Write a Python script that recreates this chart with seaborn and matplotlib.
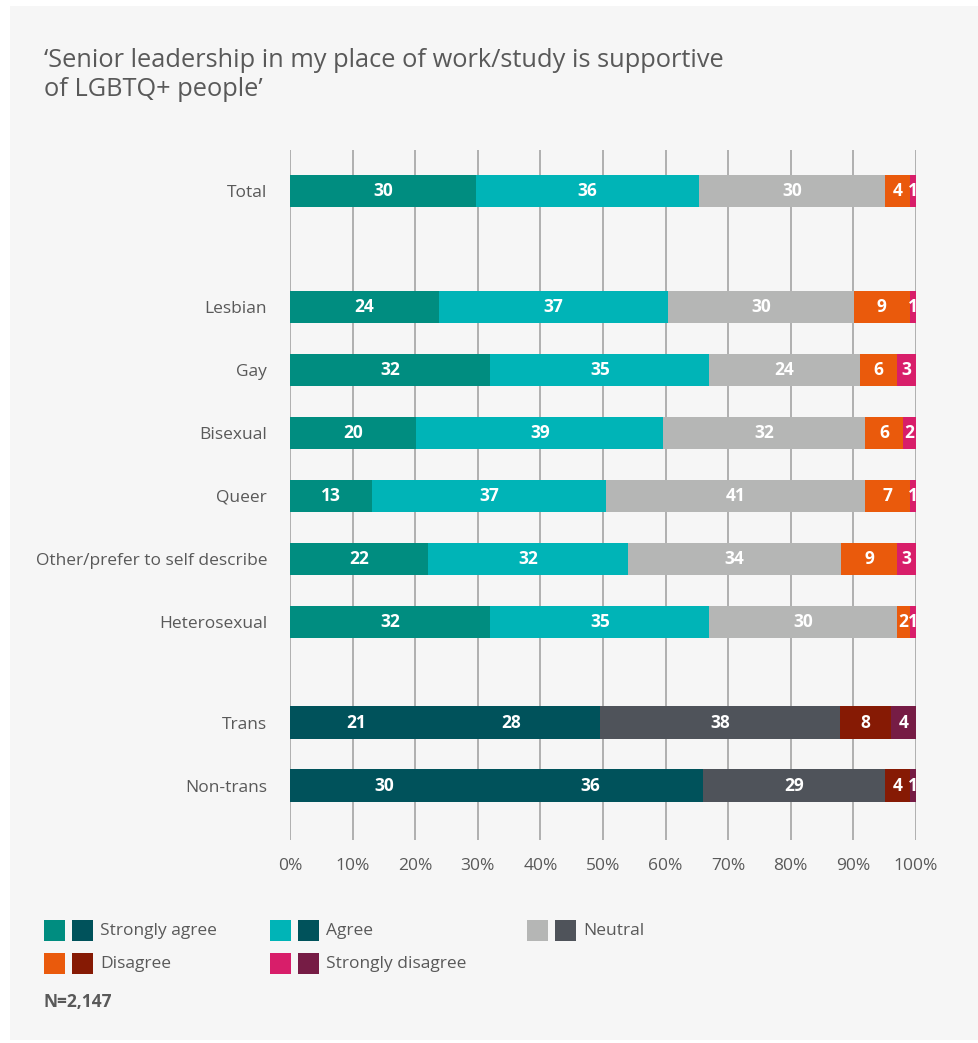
import numpy as np
import pandas as pd
import seaborn as sns
import matplotlib.pyplot as plt
from matplotlib.patches import Rectangle

# ---- data -------------------------------------------------------------
groups = ["Total", "Lesbian", "Gay", "Bisexual", "Queer",
          "Other/prefer to self describe", "Heterosexual", "Trans", "Non-trans"]
strongly_agree = [30, 24, 32, 20, 13, 22, 32, 21, 30]
agree = [36, 37, 35, 39, 37, 32, 35, 28, 36]
neutral = [30, 30, 24, 32, 41, 34, 30, 38, 29]
disagree = [4, 9, 6, 6, 7, 9, 2, 8, 4]
strongly_disagree = [1, 1, 3, 2, 1, 3, 1, 4, 1]
responses = ["Strongly agree", "Agree", "Neutral", "Disagree", "Strongly disagree"]
x_ticks = [0, 10, 20, 30, 40, 50, 60, 70, 80, 90, 100]
sample_note = "N=2,147"
title = "\u2018Senior leadership in my place of work/study is supportive\nof LGBTQ+ people\u2019"

# colours: sexual-orientation rows vs gender-identity rows
palette_main = ["#008d80", "#00b4b7", "#b5b6b5", "#ea5a0c", "#d81e6a"]
palette_gender = ["#00525b", "#00525b", "#4f535a", "#861a04", "#761c45"]
gender_rows = ["Trans", "Non-trans"]

TEXT = "#595959"
BG = "#f6f6f6"

# ---- table ------------------------------------------------------------
values = np.array([strongly_agree, agree, neutral, disagree, strongly_disagree], dtype=float).T
shares = values / values.sum(axis=1, keepdims=True) * 100
cum = np.cumsum(shares, axis=1)

# row positions: three blocks separated by extra space
blocks = [["Total"],
          ["Lesbian", "Gay", "Bisexual", "Queer", "Other/prefer to self describe", "Heterosexual"],
          ["Trans", "Non-trans"]]
block_gaps = [0.0, 0.84, 0.60]
pos = {}
y = 0.0
for gap, block in zip(block_gaps, blocks):
    y += gap
    for g in block:
        pos[g] = y
        y += 1.0

df = pd.DataFrame({"group": groups})
df["pos"] = df["group"].map(pos)
df["set"] = np.where(df["group"].isin(gender_rows), "gender", "main")
for k in range(5):
    df[f"cum{k}"] = cum[:, k]

# ---- figure -----------------------------------------------------------
W, H = 979, 1043
fig = plt.figure(figsize=(W / 100, H / 100), dpi=100)
fig.patch.set_facecolor("white")
fig.add_artist(Rectangle((10 / W, 1 - 1040 / H), (W - 10) / W, (1040 - 6) / H,
                         transform=fig.transFigure, facecolor=BG, edgecolor="none", zorder=-10))

sns.set_style("white")
plt.rcParams["font.family"] = ["Open Sans", "DejaVu Sans"]

ax = fig.add_axes([290 / W, 1 - 840 / H, (916 - 290) / W, (840 - 150) / H])
ax.set_facecolor("none")

# stacked bars: draw cumulative totals from the widest layer down
for k in reversed(range(5)):
    sns.barplot(data=df, x=f"cum{k}", y="pos", hue="set",
                palette={"main": palette_main[k], "gender": palette_gender[k]},
                orient="h", native_scale=True, dodge=False, width=0.52,
                saturation=1, linewidth=0, legend=False, ax=ax, zorder=3)

# segment value labels
for i, g in enumerate(groups):
    left = 0.0
    for k in range(5):
        w = shares[i, k]
        ax.text(left + w / 2, df.loc[i, "pos"], f"{int(values[i, k])}",
                ha="center", va="center", color="white", fontsize=12.5,
                fontweight="bold", zorder=5)
        left += w

ax.set_xlim(0, 100)
ax.set_ylim(10.30, -0.65)
ax.set_xticks(x_ticks)
ax.set_xticklabels([f"{t}%" for t in x_ticks], color=TEXT, fontsize=12.5)
ax.set_yticks([pos[g] for g in groups])
ax.set_yticklabels(groups, color=TEXT, fontsize=12.5)
ax.tick_params(axis="x", length=0, pad=13)
ax.tick_params(axis="y", length=0, pad=16.5)
ax.set_xlabel("")
ax.set_ylabel("")
for s in ax.spines.values():
    s.set_visible(False)
for t in x_ticks:
    ax.axvline(t, color="#9c9c9c", lw=1.1, zorder=1)

# title
fig.text(44 / W, 1 - 48 / H, title, ha="left", va="top", fontsize=18.3,
         color=TEXT, linespacing=1.2)

# legend: paired swatches (orientation rows / gender rows)
leg_items = [(0, 44, 930), (1, 270, 930), (2, 527, 930), (3, 44, 963), (4, 270, 963)]
sq = 21
for k, x0, yc in leg_items:
    for j, col in enumerate([palette_main[k], palette_gender[k]]):
        xs = x0 + j * 28
        fig.add_artist(Rectangle((xs / W, 1 - (yc + sq / 2) / H), sq / W, sq / H,
                                 transform=fig.transFigure, facecolor=col,
                                 edgecolor="none"))
    fig.text((x0 + 56) / W, 1 - (yc + 1) / H, responses[k], ha="left", va="center",
             fontsize=12.5, color=TEXT)

fig.text(44 / W, 1 - 1002 / H, sample_note, ha="left", va="center",
         fontsize=12.5, fontweight="bold", color=TEXT)

fig.savefig("out.png", dpi=100, facecolor=fig.get_facecolor())
